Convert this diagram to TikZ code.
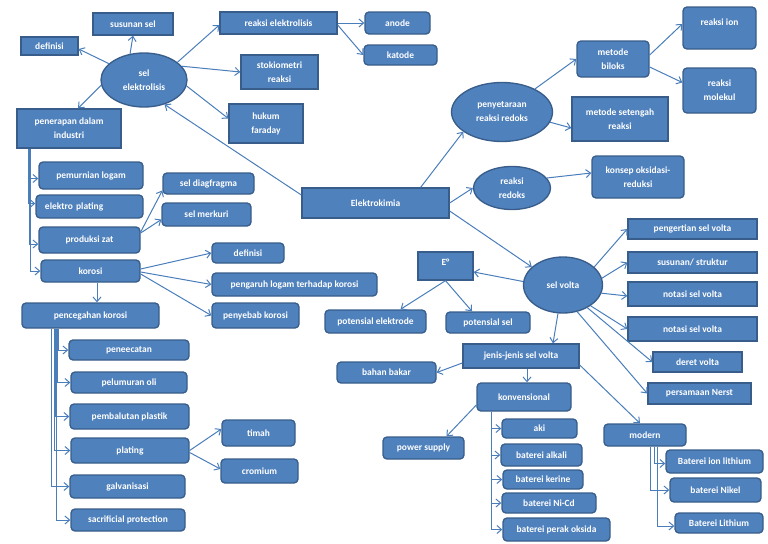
\documentclass[tikz,border=0pt]{standalone}
\usepackage{fontspec}
\setmainfont{Carlito}
\usetikzlibrary{arrows.meta,calc,shapes.geometric}
\definecolor{boxfill}{RGB}{79,129,189}
\definecolor{boxline}{RGB}{56,93,138}
\definecolor{linecol}{RGB}{74,126,187}
\tikzset{
  base/.style={fill=boxfill, draw=boxline, line width=1pt, text=white,
    font=\fontsize{7.1}{10.5}\selectfont\bfseries, inner sep=1pt, align=center},
  rbox/.style={base, rectangle},
  rrbox/.style={base, rectangle, rounded corners=3pt},
  ebox/.style={base, ellipse},
  bw/.style={minimum width={#1*0.75pt}},
  bh/.style={minimum height={#1*0.75pt}},
  link/.style={draw=linecol, line width=0.75pt, -{Straight Barb[length=3.5pt,width=6pt]}},
}
\begin{document}
\begin{tikzpicture}[x=0.75pt,y=-0.75pt]
\useasboundingbox (0,0) rectangle (768,543);
% rectangles
\node[rbox,bw=57,bh=18] (def1) at (49.5,46) {definisi};
\node[rbox,bw=80,bh=22] (susunan) at (133,24) {susunan sel};
\node[rbox,bw=117,bh=22] (reaksiel) at (278.5,23) {reaksi elektrolisis};
\node[rbox,bw=77,bh=34] (stoki) at (279.5,72) {stokiometri\\reaksi};
\node[rbox,bw=74,bh=39] (hukum) at (266,123.5) {hukum\\faraday};
\node[rbox,bw=104,bh=39] (penerapan) at (69,128.5) {penerapan dalam\\industri};
\node[rbox,bw=147,bh=30] (elektro) at (375.5,203) {Elektrokimia};
\node[rbox,bw=96,bh=44] (setengah) at (620,119) {metode setengah\\reaksi};
\node[rbox,bw=129,bh=20] (pengertian) at (692.5,229) {pengertian sel volta};
\node[rbox,bw=129,bh=21] (struktur) at (692.5,262.5) {susunan/ struktur};
\node[rbox,bw=129,bh=24] (notasi1) at (692.5,294) {notasi sel volta};
\node[rbox,bw=129,bh=24] (notasi2) at (692.5,329) {notasi sel volta};
\node[rbox,bw=89,bh=20] (deret) at (697.5,362) {deret volta};
\node[rbox,bw=103,bh=21] (nerst) at (699.5,393.5) {persamaan Nerst};
\node[rbox,bw=55,bh=28] (Eo) at (445.5,266) {\raisebox{5pt}{E°}};
\node[rbox,bw=116,bh=24] (jenis) at (521,356) {jenis-jenis sel volta};
% rounded boxes
\node[rrbox,bw=65,bh=22] (anode) at (397.5,23) {anode};
\node[rrbox,bw=73,bh=20] (katode) at (400.5,55) {katode};
\node[rrbox,bw=72,bh=36] (biloks) at (613,59) {metode\\biloks};
\node[rrbox,bw=73,bh=42] (reaksiion) at (719.5,28) {\raisebox{8pt}{reaksi ion}};
\node[rrbox,bw=73,bh=45] (molekul) at (719.5,90.5) {reaksi\\molekul};
\node[rrbox,bw=92,bh=42] (konsep) at (638,177) {konsep oksidasi-\\reduksi};
\node[rrbox,bw=101,bh=23] (potel) at (375.5,321.5) {potensial elektrode};
\node[rrbox,bw=84,bh=21] (potsel) at (488,322.5) {potensial sel};
\node[rrbox,bw=99,bh=21] (bahan) at (386.5,372.5) {bahan bakar};
\node[rrbox,bw=94,bh=28] (konv) at (524,397) {konvensional};
\node[rrbox,bw=81,bh=22] (power) at (423.5,448) {power supply};
\node[rrbox,bw=75,bh=19] (aki) at (539.5,428.5) {aki};
\node[rrbox,bw=81,bh=22] (alkali) at (541.5,455) {baterei alkali};
\node[rrbox,bw=80,bh=19] (kerine) at (543,479.5) {baterei kerine};
\node[rrbox,bw=94,bh=20] (nicd) at (549,503) {baterei Ni-Cd};
\node[rrbox,bw=107,bh=23] (perak) at (556.5,529.5) {baterei perak oksida};
\node[rrbox,bw=82,bh=22] (modern) at (645,435) {modern};
\node[rrbox,bw=97,bh=23] (ionli) at (714.5,461.5) {Baterei ion lithium};
\node[rrbox,bw=91,bh=24] (nikel) at (715.5,490) {baterei Nikel};
\node[rrbox,bw=88,bh=20] (lith) at (719,523) {Baterei Lithium};
\node[rrbox,bw=104,bh=27] (pemurnian) at (91,175.5) {pemurnian logam};
\node[rrbox,bw=107,bh=23,align=left,text width={89*0.75pt}] (eplating) at (89.5,206.5) {elektro plating};
\node[rrbox,bw=101,bh=26] (produksi) at (89.5,240) {produksi zat};
\node[rrbox,bw=99,bh=22] (korosi) at (90.5,271) {korosi};
\node[rrbox,bw=91,bh=21] (diag) at (208.5,183.5) {sel diagfragma};
\node[rrbox,bw=89,bh=23] (merkuri) at (206.5,214.5) {sel merkuri};
\node[rrbox,bw=72,bh=20] (def2) at (248,253) {definisi};
\node[rrbox,bw=165,bh=23] (pengaruh) at (294.5,284.5) {pengaruh logam terhadap korosi};
\node[rrbox,bw=87,bh=25] (penyebab) at (255.5,315.5) {penyebab korosi};
\node[rrbox,bw=137,bh=25] (pencegahan) at (90.5,315.5) {pencegahan korosi};
\node[rrbox,bw=120,bh=20] (peneecatan) at (129,350) {peneecatan};
\node[rrbox,bw=116,bh=21] (pelumuran) at (129,382.5) {pelumuran oli};
\node[rrbox,bw=119,bh=25] (pembalutan) at (129.5,416.5) {pembalutan plastik};
\node[rrbox,bw=118,bh=25] (plating) at (130,450.5) {plating};
\node[rrbox,bw=115,bh=23] (galvan) at (127.5,486.5) {galvanisasi};
\node[rrbox,bw=114,bh=22] (sacrificial) at (128,520) {sacrificial protection};
\node[rrbox,bw=73,bh=26] (timah) at (258.5,433) {timah};
\node[rrbox,bw=77,bh=24] (cromium) at (259.5,471) {cromium};
% ellipses
\node[ebox,bw=86,bh=54] (selel) at (144,80) {sel\\elektrolisis};
\node[ebox,bw=101,bh=59] (penyet) at (502,112) {penyetaraan\\reaksi redoks};
\node[ebox,bw=77,bh=43] (redoks) at (512,188) {reaksi\\redoks};
\node[ebox,bw=79,bh=56] (selvolta) at (563,285) {sel volta};
% connectors: sel elektrolisis
\draw[link] (selel.155) -- ($(def1.east)+(0,3)$);
\draw[link] (selel.118) -- (susunan.south);
\draw[link] (selel.28) -- ($(reaksiel.west)+(0,2)$);
\draw[link] (selel.20) -- (stoki.west);
\draw[link] (selel.-8) -- ($(hukum.west)+(0,-5)$);
\draw[link] (selel.187) -- ($(penerapan.north)+(9,0)$);
\draw[link] ($(elektro.west)+(0,-8)$) -- (selel.-50);
\draw[link] (reaksiel.east) -- (anode.west);
\draw[link] ($(reaksiel.east)+(0,2)$) -- (katode.west);
% redoks
\draw[link] ($(elektro.north east)+(-29,0)$) -- (penyet.207);
\draw[link] (elektro.east) -- (redoks.west);
\draw[link] (redoks.16) -- ($(konsep.west)+(0,-4)$);
\draw[link] (penyet.35) -- (biloks.west);
\draw[link] (penyet.-12) -- ($(setengah.west)+(0,9)$);
\draw[link] ($(biloks.east)+(0,-4)$) -- ($(reaksiion.west)+(0,-4)$);
\draw[link] ($(biloks.east)+(0,8)$) -- ($(molekul.west)+(0,-8)$);
% sel volta
\draw[link] ($(elektro.east)+(0,8)$) -- (selvolta.150);
\draw[link] (selvolta.30) -- (pengertian.west);
\draw[link] (selvolta.10) -- (struktur.west);
\draw[link] (selvolta.-12) -- ($(notasi1.west)+(0,2)$);
\draw[link] (selvolta.-37) -- (notasi2.west);
\draw[link] (selvolta.-43) -- (deret.west);
\draw[link] (selvolta.-62) -- (nerst.west);
\draw[link] (selvolta.175) -- ($(Eo.east)+(0,6)$);
\draw[link] (Eo.south) -- ($(potel.north)+(25,0)$);
\draw[link] (Eo.south) -- ($(potsel.north)+(-16,0)$);
\draw[link] (selvolta.-100) -- ($(jenis.north)+(32,0)$);
\draw[link] ($(jenis.west)+(0,7)$) -- (bahan.east);
\draw[link] ($(jenis.south)+(6,0)$) -- ($(konv.north)+(3,0)$);
\draw[link] ($(jenis.east)+(0,9)$) -- ($(modern.north)+(-5,0)$);
\draw[link] ($(konv.west)+(0,8)$) -- ($(power.north)+(23,0)$);
\draw[link] ($(konv.south)+(-33,0)$) |- (aki.west);
\draw[link] ($(konv.south)+(-33,0)$) |- (alkali.west);
\draw[link] ($(konv.south)+(-33,0)$) |- (kerine.west);
\draw[link] ($(konv.south)+(-33,0)$) |- (nicd.west);
\draw[link] ($(konv.south)+(-33,0)$) |- (perak.west);
\draw[link] ($(modern.south)+(9,0)$) |- ($(ionli.west)+(0,2)$);
\draw[link] ($(modern.south)+(5,0)$) |- (nikel.west);
\draw[link] ($(modern.south)+(12,0)$) |- ($(lith.west)+(0,3)$);
% penerapan dalam industri
\draw[link] ($(penerapan.south)+(-41,0)$) |- ($(pemurnian.west)+(0,3)$);
\draw[link] ($(penerapan.south)+(-41,0)$) |- ($(eplating.west)+(0,-3)$);
\draw[link] ($(penerapan.south)+(-40,0)$) |- ($(produksi.west)+(0,4)$);
\draw[link] ($(penerapan.south)+(-39,0)$) |- (korosi.west);
\draw[link] ($(produksi.east)+(0,-8)$) -- ($(diag.west)+(0,7)$);
\draw[link] ($(produksi.east)+(0,-7)$) -- ($(merkuri.west)+(0,5)$);
\draw[link] ($(korosi.east)+(0,-2)$) -- (def2.west);
\draw[link] ($(korosi.east)+(0,1)$) -- (pengaruh.west);
\draw[link] ($(korosi.east)+(0,3)$) -- (penyebab.west);
\draw[link] ($(korosi.south)+(6.5,0)$) -- ($(pencegahan.north)+(6.5,0)$);
% pencegahan korosi
\draw[link] ($(pencegahan.south)+(-32.5,0)$) |- (peneecatan.west);
\draw[link] ($(pencegahan.south)+(-33.5,0)$) |- (pelumuran.west);
\draw[link] ($(pencegahan.south)+(-35.5,0)$) |- (pembalutan.west);
\draw[link] ($(pencegahan.south)+(-36.5,0)$) |- (plating.west);
\draw[link] ($(pencegahan.south)+(-39.5,0)$) |- (galvan.west);
\draw[link] ($(pencegahan.south)+(-34.5,0)$) |- (sacrificial.west);
\draw[link] (plating.east) -- ($(timah.west)+(0,-4)$);
\draw[link] ($(plating.east)+(0,2)$) -- ($(cromium.west)+(0,-2)$);
\end{tikzpicture}
\end{document}
